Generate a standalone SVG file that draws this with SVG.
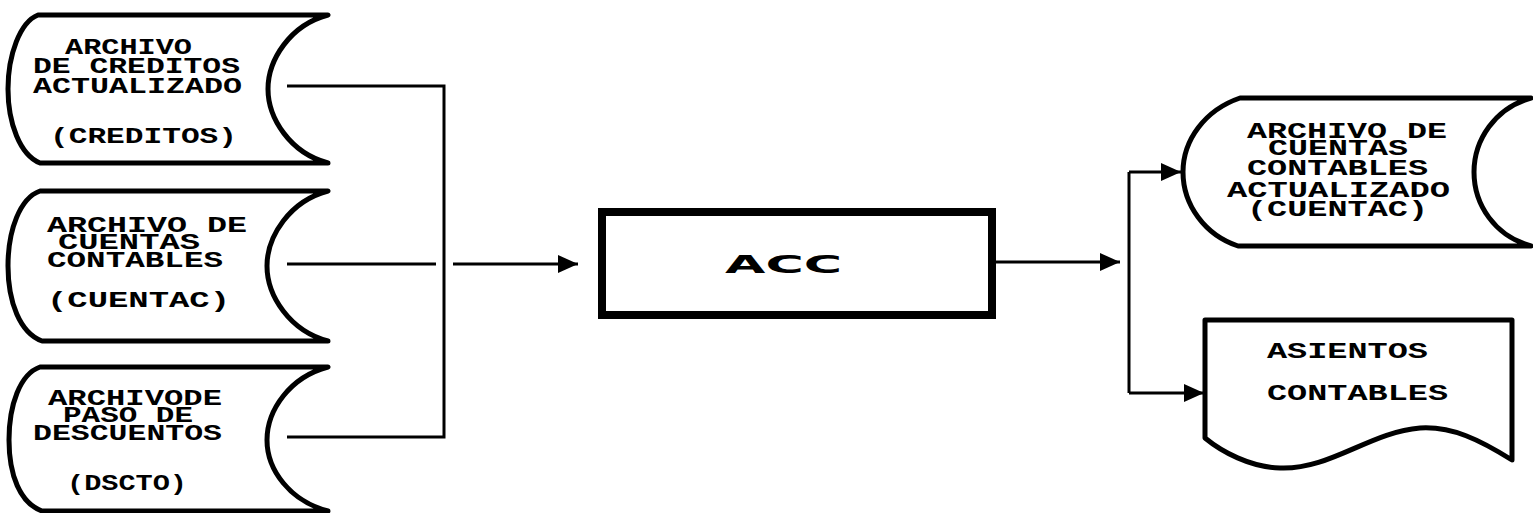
<svg xmlns="http://www.w3.org/2000/svg" width="1533" height="513" viewBox="0 0 1533 513">
  <style>
    .shape { fill: #fff; stroke: #000; stroke-width: 5; stroke-linejoin: round; }
    .box { fill: #fff; stroke: #000; stroke-width: 8; }
    .lbl { font-family: "Liberation Mono", "DejaVu Sans Mono", monospace; font-weight: bold; font-size: 22px; fill: #000; }
    .big { font-family: "DejaVu Sans", "Liberation Sans", sans-serif; font-weight: bold; font-size: 25px; fill: #000; }
    .wire { fill: none; stroke: #000; stroke-width: 3; }
  </style>
  <defs>
    <marker id="arrow" markerUnits="userSpaceOnUse" markerWidth="22" markerHeight="20" refX="20" refY="10" orient="auto">
      <path d="M0,1 L20,10 L0,19 Z" fill="#000"/>
    </marker>
  </defs>

  <rect width="1533" height="513" fill="#fff"/>

  <!-- input file: credits -->
  <g id="creditos">
    <path class="shape" d="M328,15 H38 C20,22 8,55 8,89 C8,123 20,155 40,163 H328 C290,153 268,118 268,89 C268,60 290,25 328,15 Z"/>
    <text class="lbl" x="65" y="54" textLength="127" lengthAdjust="spacingAndGlyphs">ARCHIVO</text>
    <text class="lbl" x="33" y="73" textLength="207" lengthAdjust="spacingAndGlyphs">DE CREDITOS</text>
    <text class="lbl" x="33" y="93" textLength="209" lengthAdjust="spacingAndGlyphs">ACTUALIZADO</text>
    <text class="lbl" x="50" y="143" textLength="187" lengthAdjust="spacingAndGlyphs">(CREDITOS)</text>
  </g>

  <!-- input file: accounts -->
  <g id="cuentac">
    <path class="shape" d="M328,191 H40 C20,198 8,230 8,266 C8,302 20,333 42,341 H328 C290,331 267,296 267,266 C267,236 290,201 328,191 Z"/>
    <text class="lbl" x="47" y="232" textLength="200" lengthAdjust="spacingAndGlyphs">ARCHIVO DE</text>
    <text class="lbl" x="58" y="249" textLength="142" lengthAdjust="spacingAndGlyphs">CUENTAS</text>
    <text class="lbl" x="47" y="267" textLength="176" lengthAdjust="spacingAndGlyphs">CONTABLES</text>
    <text class="lbl" x="47" y="307" textLength="183" lengthAdjust="spacingAndGlyphs">(CUENTAC)</text>
  </g>

  <!-- input file: discounts -->
  <g id="dscto">
    <path class="shape" d="M328,367 H40 C20,374 9,405 9,440 C9,475 20,503 42,511 H328 C290,501 267,470 267,440 C267,410 290,377 328,367 Z"/>
    <text class="lbl" x="48" y="405" textLength="174" lengthAdjust="spacingAndGlyphs">ARCHIVODE</text>
    <text class="lbl" x="63" y="422" textLength="130" lengthAdjust="spacingAndGlyphs">PASO DE</text>
    <text class="lbl" x="33" y="440" textLength="189" lengthAdjust="spacingAndGlyphs">DESCUENTOS</text>
    <text class="lbl" x="67" y="490" textLength="120" lengthAdjust="spacingAndGlyphs">(DSCTO)</text>
  </g>

  <!-- process -->
  <g id="acc">
    <rect class="box" x="602" y="212" width="390" height="103"/>
    <text class="big" x="725" y="273" textLength="117" lengthAdjust="spacingAndGlyphs">ACC</text>
  </g>

  <!-- output file: updated accounts -->
  <g id="cuentac-actualizado">
    <path class="shape" d="M1531,98 H1240 C1205,110 1183,140 1183,172 C1183,205 1205,235 1238,246 H1531 C1495,236 1474,205 1474,172 C1474,140 1495,108 1531,98 Z"/>
    <text class="lbl" x="1247" y="138" textLength="200" lengthAdjust="spacingAndGlyphs">ARCHIVO DE</text>
    <text class="lbl" x="1268" y="155" textLength="140" lengthAdjust="spacingAndGlyphs">CUENTAS</text>
    <text class="lbl" x="1247" y="175" textLength="181" lengthAdjust="spacingAndGlyphs">CONTABLES</text>
    <text class="lbl" x="1227" y="197" textLength="223" lengthAdjust="spacingAndGlyphs">ACTUALIZADO</text>
    <text class="lbl" x="1247" y="216" textLength="181" lengthAdjust="spacingAndGlyphs">(CUENTAC)</text>
  </g>

  <!-- output report -->
  <g id="asientos">
    <path class="shape" d="M1205,438 V320 H1512 V460 C1480,440 1452,426 1420,428 C1370,432 1330,470 1280,468 C1250,467 1222,452 1205,438 Z" stroke-width="7"/>
    <text class="lbl" x="1267" y="358" textLength="161" lengthAdjust="spacingAndGlyphs">ASIENTOS</text>
    <text class="lbl" x="1267" y="400" textLength="181" lengthAdjust="spacingAndGlyphs">CONTABLES</text>
  </g>

  <!-- connectors -->
  <g id="connectors">
    <path class="wire" d="M287,86 H444 V437 H287"/>
    <path class="wire" d="M287,264 H436"/>
    <path class="wire" d="M453,264 H578" marker-end="url(#arrow)"/>
    <path class="wire" d="M996,262 H1120" marker-end="url(#arrow)"/>
    <path class="wire" d="M1129,172 V393"/>
    <path class="wire" d="M1129,172 H1181" marker-end="url(#arrow)"/>
    <path class="wire" d="M1129,393 H1204" marker-end="url(#arrow)"/>
  </g>
</svg>
